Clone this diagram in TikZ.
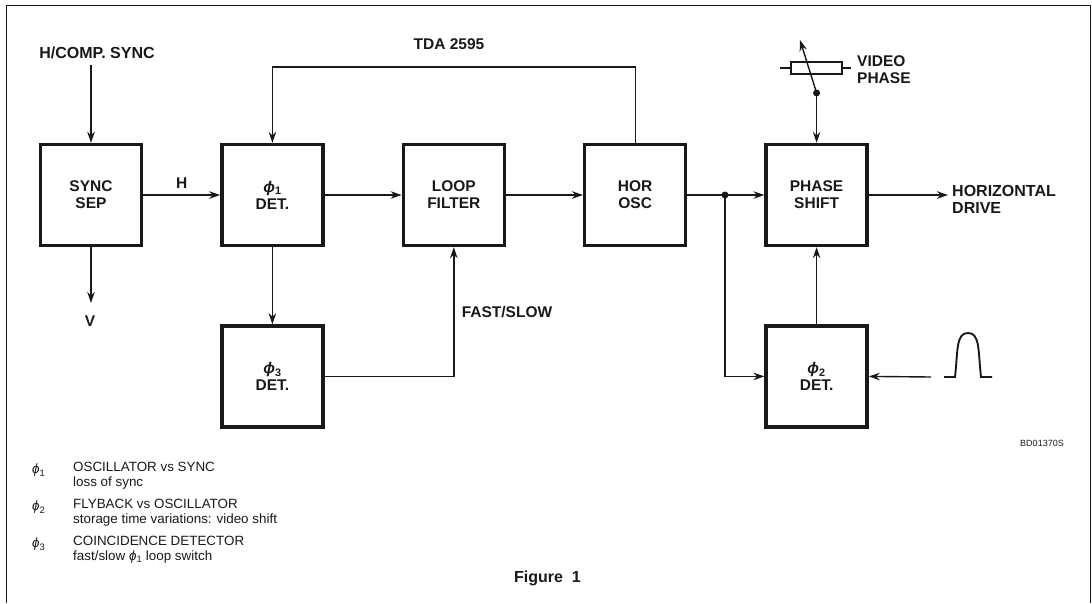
\documentclass[tikz,border=0pt]{standalone}
\usepackage{fontspec}
\setmainfont{Liberation Sans}
\usetikzlibrary{arrows.meta, positioning}

\newcommand{\phisym}[1]{{\itshape ϕ}\textsubscript{#1}}

\begin{document}
\begin{tikzpicture}[
    x=1pt, y=-1pt,
    node distance=77pt and 77pt,
    >={Stealth[length=11pt,width=7.5pt]},
    % --- Styles ---
    block/.style={
        rectangle, draw=inkblack, line width=3.4pt, minimum size=101pt,
        inner sep=0pt, align=center, text=inkblack,
        font=\fontsize{15.5}{17}\selectfont\bfseries
    },
    arrow/.style={->, line width=1.4pt, draw=inkblack},
    wire/.style={line width=1.4pt, draw=inkblack},
    dot/.style={circle, fill=inkblack, inner sep=0pt, minimum size=7pt},
    label/.style={font=\fontsize{15.5}{17}\selectfont\bfseries, text=inkblack, align=left, inner sep=0pt},
    biglabel/.style={label, font=\fontsize{16}{17}\selectfont\bfseries},
    legend/.style={font=\fontsize{13.4}{15}\selectfont, text=inkblack, align=left, anchor=north west, inner sep=0pt}
]

    % ── Colour Palette ──────────────────────────────────────────────────
    \definecolor{inkblack}{RGB}{25, 25, 25}

    \useasboundingbox (0,0) rectangle (1092,603);

    % ── NODES ───────────────────────────────────────────────────────────

    % Top row
    \node (syncsep) [block] at (91,195) {SYNC\\SEP};
    \node (phione) [block, right=of syncsep] {\phisym{1}\\DET.};
    \node (loopfilter) [block, right=of phione] {LOOP\\FILTER};
    \node (horosc) [block, right=of loopfilter] {HOR\\OSC};
    \node (phaseshift) [block, right=of horosc] {PHASE\\SHIFT};

    % Bottom row
    \node (phithree) [block, below=of phione] {\phisym{3}\\DET.};
    \node (phitwo) [block, below=of phaseshift] {\phisym{2}\\DET.};

    % Labels
    \node (hcomp) [biglabel] at (97,53) {H/COMP. SYNC};
    \node (vlabel) [label] at (90,321) {V};
    \node (tda) [label] at (449,44) {TDA 2595};
    \node (fastslow) [label] at (507,312) {FAST/SLOW};
    \node (videophase) [label, anchor=west] at (857,70) {VIDEO\\PHASE};
    \node (hordrive) [biglabel, anchor=west] at (952,199) {HORIZONTAL\\DRIVE};
    \node (partno) [font=\fontsize{9}{10}\selectfont, text=inkblack, inner sep=0pt] at (1042,443) {BD01370S};
    \node (figcap) [label, font=\fontsize{16}{17}\selectfont\bfseries] at (547.5,578) {Figure\ \ 1};

    % Legend
    \node (symone) [legend] at (32,464) {\phisym{1}};
    \node (textone) [legend] at (73,462) {OSCILLATOR vs SYNC\\loss of sync};
    \node (symtwo) [legend] at (32,501) {\phisym{2}};
    \node (texttwo) [legend] at (73,499) {FLYBACK vs OSCILLATOR\\storage time variations: video shift};
    \node (symthree) [legend] at (32,538) {\phisym{3}};
    \node (textthree) [legend] at (73,536) {COINCIDENCE DETECTOR\\fast/slow \phisym{1} loop switch};

    % Video phase potentiometer
    \node (pot) [rectangle, draw=inkblack, line width=1.4pt, minimum width=51pt, minimum height=12pt, inner sep=0pt] at (816.5,68) {};
    \node (wiper) [dot] at (phaseshift.north |- 0,93) {};
    \coordinate (potleft) at (780,68);
    \coordinate (potright) at (851,68);
    \coordinate (pottip) at (800,40);

    % Junction
    \node (junction) [dot] at (725,195) {};

    % Free ends
    \coordinate (pulsein) at (931,377);
    \coordinate (vtip) at (91,303);
    \coordinate (drivetip) at (948,195);
    \coordinate (synctop) at (91,65);

    % ── ARROWS ──────────────────────────────────────────────────────────

    \draw [arrow] (synctop) -- (syncsep.north);
    \draw [arrow] (syncsep.south) -- (vtip);
    \draw [arrow] (syncsep) -- node[label, above=6pt, pos=0.5] (hlabel) {H} (phione);
    \draw [arrow] (phione) -- (loopfilter);
    \draw [arrow] (loopfilter) -- (horosc);
    \draw [arrow] (horosc) -- (phaseshift);
    \draw [arrow] (phaseshift) -- (drivetip);
    \draw [arrow] (phione) -- (phithree);

    % Feedback loop over the top
    \draw [arrow] (horosc.north) |- (phione.north |- 0,67) -- (phione.north);

    % Coincidence detector to loop filter
    \draw [arrow] (phithree.east) -| (loopfilter.south);

    % Oscillator to flyback detector
    \draw [arrow] (junction.center) |- (phitwo.west);
    \draw [arrow] (phitwo.north) -- (phaseshift.south);
    \draw [arrow] (pulsein) -- (phitwo.east);
    \draw [arrow] (wiper.center) -- (phaseshift.north);

    % Potentiometer
    \draw [wire] (potleft) -- (pot.west);
    \draw [wire] (pot.east) -- (potright);
    \draw [arrow] (wiper.center) -- (pottip);

    % Flyback pulse shape
    \draw [wire, line width=1.9pt] (944,377) -- (955,377)
        .. controls (958,350) and (956,333) .. (968,333)
        .. controls (980,333) and (978,350) .. (981,377) -- (992,377);

    % ── FRAME ───────────────────────────────────────────────────────────
    \draw [line width=1pt, draw=inkblack] (6,603) -- (6,5) -- (1090,5) -- (1090,603);

\end{tikzpicture}
\end{document}
